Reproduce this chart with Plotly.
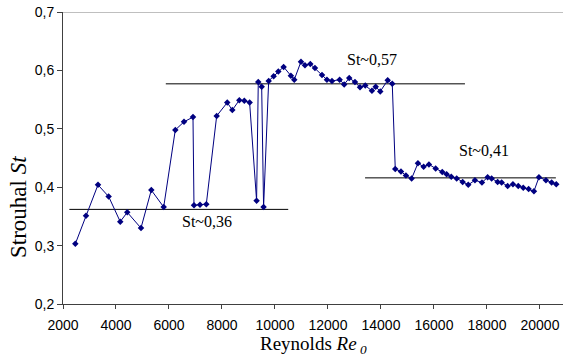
import plotly.graph_objects as go

reynolds = [2465, 2868, 3320, 3723, 4160, 4425, 4943, 5332, 5800,
            6238, 6566, 6906, 6943, 7170, 7408, 7800, 8200, 8389, 8653, 8842, 9043,
            9306, 9370, 9498, 9570, 9762, 9950, 10125, 10326, 10600, 10727, 10981,
            11132, 11333, 11509, 11774, 11962, 12151, 12440, 12613, 12802, 13019,
            13208, 13408, 13660, 13800, 13974, 14253, 14426, 14540, 14755, 14943,
            15158, 15396, 15610, 15811, 16064, 16313, 16479, 16653, 16857, 17083,
            17294, 17547, 17811, 18026, 18177, 18403, 18554, 18780, 18981, 19181,
            19370, 19573, 19773, 19962, 20226, 20441, 20615]
strouhal = [0.303, 0.351, 0.404, 0.384, 0.341, 0.357, 0.330, 0.395, 0.366,
            0.498, 0.512, 0.520, 0.369, 0.370, 0.371, 0.522, 0.545, 0.532, 0.549, 0.548, 0.545,
            0.377, 0.580, 0.572, 0.366, 0.582, 0.590, 0.598, 0.606, 0.591, 0.584, 0.615,
            0.609, 0.611, 0.604, 0.592, 0.584, 0.582, 0.584, 0.576, 0.587, 0.580,
            0.571, 0.574, 0.565, 0.572, 0.564, 0.583, 0.577, 0.431, 0.427, 0.420,
            0.415, 0.441, 0.435, 0.439, 0.432, 0.426, 0.422, 0.418, 0.415, 0.409,
            0.404, 0.412, 0.408, 0.417, 0.415, 0.409, 0.408, 0.402, 0.405, 0.402,
            0.399, 0.397, 0.393, 0.417, 0.412, 0.408, 0.405]

level_values = [0.362, 0.577, 0.416]
level_starts = [2240, 5880, 13400]
level_ends = [10500, 17170, 20600]
level_labels = ["St~0,36", "St~0,57", "St~0,41"]
label_x = [7430, 13650, 17870]
label_y = [0.342, 0.618, 0.462]

x_ticks = [2000, 4000, 6000, 8000, 10000, 12000, 14000, 16000, 18000, 20000]
y_ticks = [0.2, 0.3, 0.4, 0.5, 0.6, 0.7]

fig = go.Figure()

for v, s, e in zip(level_values, level_starts, level_ends):
    fig.add_trace(go.Scatter(x=[s, e], y=[v, v], mode="lines",
                             line=dict(color="#000000", width=1), showlegend=False,
                             hoverinfo="skip"))

fig.add_trace(go.Scatter(x=reynolds, y=strouhal, mode="lines+markers",
                         line=dict(color="#000080", width=1),
                         marker=dict(symbol="diamond", size=5, color="#000080"),
                         showlegend=False))

for t, x, y in zip(level_labels, label_x, label_y):
    fig.add_annotation(x=x, y=y, text=t, showarrow=False,
                       font=dict(family="Liberation Serif", size=16, color="#000000"))

fig.add_annotation(xref="paper", yref="paper", x=-0.09, y=0.332, text="Strouhal <i>St</i>",
                   textangle=-90, showarrow=False, xanchor="center", yanchor="middle",
                   font=dict(family="Liberation Serif", size=23, color="#000000"))

fig.add_annotation(xref="paper", yref="paper", x=0.5, y=-0.14,
                   text="Reynolds <i>Re</i><sub><i> 0</i></sub>",
                   showarrow=False, xanchor="center", yanchor="middle",
                   font=dict(family="Liberation Serif", size=19, color="#000000"))

fig.add_shape(type="line", xref="paper", yref="y", x0=0, x1=1, y0=0.7, y1=0.7,
              line=dict(color="#808080", width=1))

fig.update_layout(
    width=563, height=358,
    margin=dict(l=63, r=0, t=12, b=54),
    paper_bgcolor="white", plot_bgcolor="white",
    separators=", ",
    xaxis=dict(range=[2000, 20870], tickvals=x_ticks, tickformat="d", automargin=False,
               showgrid=False, zeroline=False, showline=True, linecolor="#404040",
               linewidth=1, ticks="outside", ticklen=4, tickcolor="#404040",
               ticklabelstandoff=4,
               tickfont=dict(family="Liberation Sans", size=14, color="#000000")),
    yaxis=dict(range=[0.2, 0.7], tickvals=y_ticks, tickformat=".1f", automargin=False,
               showgrid=False, zeroline=False, showline=True, linecolor="#404040",
               linewidth=1, ticks="outside", ticklen=5, tickcolor="#404040",
               tickfont=dict(family="Liberation Sans", size=14, color="#000000")),
)

fig.write_html("out.html", config={"displayModeBar": False},
               post_script="document.body.style.margin='0px';document.body.style.padding='0px';document.body.style.overflow='hidden';")
